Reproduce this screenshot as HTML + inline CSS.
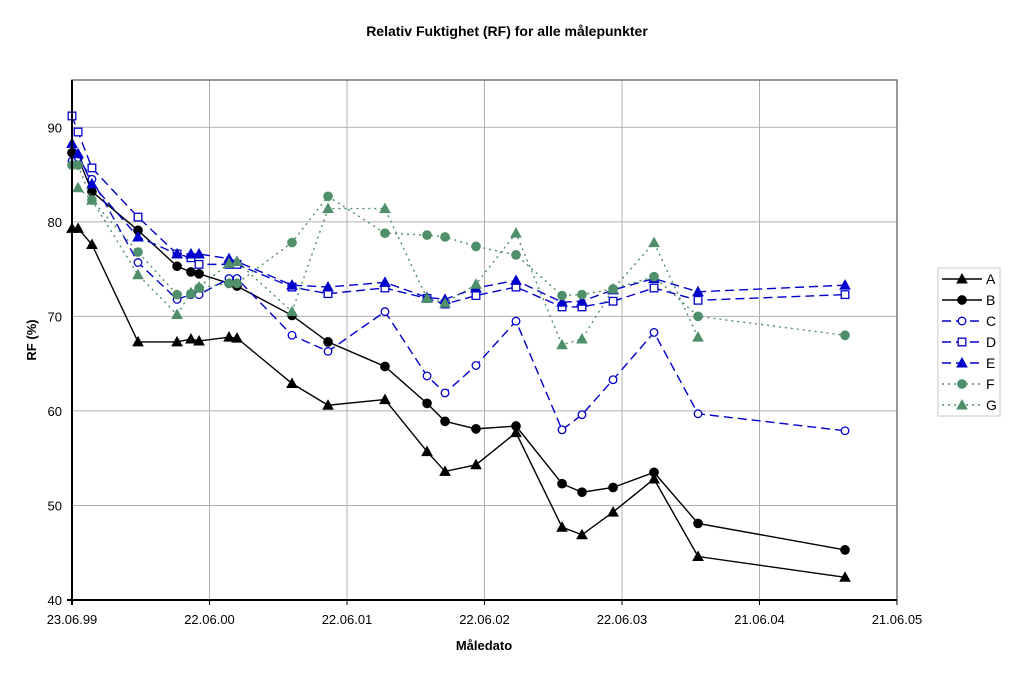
<!DOCTYPE html>
<html><head><meta charset="utf-8"><style>
body{margin:0;background:#fff;width:1024px;height:669px;overflow:hidden;font-family:"Liberation Sans",sans-serif}
</style></head><body>
<svg id="chart" width="1024" height="669" xmlns="http://www.w3.org/2000/svg" font-family="Liberation Sans, sans-serif">
<text x="507" y="36" text-anchor="middle" font-size="14" font-weight="bold">Relativ Fuktighet (RF) for alle målepunkter</text>
<text transform="translate(36,340) rotate(-90)" text-anchor="middle" font-size="13" font-weight="bold">RF (%)</text>
<text x="484" y="650" text-anchor="middle" font-size="13" font-weight="bold">Måledato</text>
<g id="grid"></g><g id="series"></g><g id="axes"></g><g id="legend"></g>
</svg>
<script>
const xTickLabels=["23.06.99","22.06.00","22.06.01","22.06.02","22.06.03","21.06.04","21.06.05"];
const yTicks=[40,50,60,70,80,90];
const dates=[0,0.044,0.145,0.48,0.764,0.865,0.924,1.142,1.2,1.6,1.862,2.276,2.582,2.713,2.938,3.229,3.564,3.709,3.935,4.233,4.553,5.622];
const seriesA=[79.3,79.3,77.6,67.3,67.3,67.6,67.4,67.8,67.7,62.9,60.6,61.2,55.7,53.6,54.3,57.7,47.7,46.9,49.3,52.8,44.6,42.4];
const seriesB=[87.3,86.8,83.2,79.1,75.3,74.7,74.5,73.5,73.2,70.1,67.3,64.7,60.8,58.9,58.1,58.4,52.3,51.4,51.9,53.5,48.1,45.3];
const seriesC=[86.4,86.8,84.5,75.7,71.8,72.3,72.3,74.0,74.0,68.0,66.3,70.5,63.7,61.9,64.8,69.5,58.0,59.6,63.3,68.3,59.7,57.9];
const seriesD=[91.2,89.5,85.7,80.5,76.6,76.2,75.5,75.5,75.5,73.1,72.4,73.0,71.9,71.3,72.2,73.1,71.0,71.0,71.6,73.0,71.7,72.3];
const seriesE=[88.3,87.2,84.0,78.4,76.6,76.6,76.6,76.1,75.8,73.3,73.1,73.6,72.0,71.8,73.0,73.8,71.5,71.6,72.8,74.0,72.6,73.3];
const seriesF=[86.0,86.0,82.3,76.8,72.3,72.4,73.0,73.5,73.5,77.8,82.7,78.8,78.6,78.4,77.4,76.5,72.2,72.3,72.9,74.2,70.0,68.0];
const seriesG=[null,83.6,82.3,74.4,70.2,72.5,73.1,75.6,75.8,70.5,81.4,81.4,71.9,71.4,73.4,78.8,67.0,67.6,72.9,77.8,67.8,null];
const names=["A","B","C","D","E","F","G"];
const L=72,R=897,T=80,B=600;
const xS=v=>L+v*(R-L)/6;
const yS=v=>B-(v-40)*(B-T)/55;
const NS="http://www.w3.org/2000/svg";
function mk(t,a,p){const e=document.createElementNS(NS,t);for(const k in a)e.setAttribute(k,a[k]);p.appendChild(e);return e;}
const grid=document.getElementById('grid'),axes=document.getElementById('axes'),ser=document.getElementById('series'),leg=document.getElementById('legend');
yTicks.forEach(v=>{const l=mk('line',{x1:L,x2:R,y1:yS(v),y2:yS(v),stroke:'#b0b0b0','stroke-width':1},grid);


const t=mk('text',{x:L-10,y:yS(v)+5,'text-anchor':'end','font-size':13},axes);t.textContent=v;

});
xTickLabels.forEach((s,i)=>{const x=xS(i);if(i>0&&i<6){const l=mk('line',{x1:x,x2:x,y1:T,y2:B,stroke:'#b0b0b0','stroke-width':1},grid);

}
mk('line',{x1:x,x2:x,y1:B,y2:B+5,stroke:'#000'},axes);
const t=mk('text',{x:x,y:B+24,'text-anchor':'middle','font-size':13},axes);t.textContent=s;

});
mk('rect',{x:L,y:T,width:R-L,height:B-T,fill:'none',stroke:'#555','stroke-width':1.2},axes);
mk('line',{x1:L,x2:L,y1:T,y2:B+5,stroke:'#000','stroke-width':2},axes);
mk('line',{x1:L-5,x2:R,y1:B,y2:B,stroke:'#000','stroke-width':2},axes);
const styles=[
{c:'#000',d:'',m:'tri',f:true},{c:'#000',d:'',m:'circ',f:true},{c:'#0000cc',d:'9,5',m:'circ',f:false},
{c:'#0000cc',d:'9,5',m:'sq',f:false},{c:'#0000cc',d:'9,5',m:'tri',f:true},{c:'#4f8f6a',d:'2,4',m:'circ',f:true},{c:'#4f8f6a',d:'2,4',m:'tri',f:true}];
function marker(g,m,x,y,c,f){const fill=f?c:'#fff';
if(m==='tri')return mk('polygon',{points:`${x},${y-5} ${x-5},${y+4} ${x+5},${y+4}`,fill:fill,stroke:c,'stroke-width':1},g);
if(m==='circ')return mk('circle',{cx:x,cy:y,r:f?4.2:3.8,fill:fill,stroke:c,'stroke-width':1.3},g);
return mk('rect',{x:x-3.8,y:y-3.8,width:7.6,height:7.6,fill:fill,stroke:c,'stroke-width':1.3},g);}
[seriesA,seriesB,seriesC,seriesD,seriesE,seriesF,seriesG].forEach((vals,si)=>{const s=styles[si];
const g=mk('g',{},ser);


const pts=[];vals.forEach((v,i)=>{if(v!=null)pts.push([xS(dates[i]),yS(v)]);});
const p=mk('polyline',{points:pts.map(q=>q.join(',')).join(' '),fill:'none',stroke:s.c,'stroke-width':1.4,'stroke-dasharray':s.d},g);


pts.forEach(q=>{const m=marker(g,s.m,q[0],q[1],s.c,s.f);

});
const ly=279+si*21;
const le=mk('g',{},leg);


mk('line',{x1:942,x2:982,y1:ly,y2:ly,stroke:s.c,'stroke-width':1.4,'stroke-dasharray':s.d},le);
marker(le,s.m,962,ly,s.c,s.f);
const t=mk('text',{x:986,y:ly+5,'font-size':14},le);t.textContent=names[si];});
const box=mk('rect',{x:938,y:268,width:62,height:148,fill:'none',stroke:'#c8c8c8'},leg);


</script>
</body></html>
